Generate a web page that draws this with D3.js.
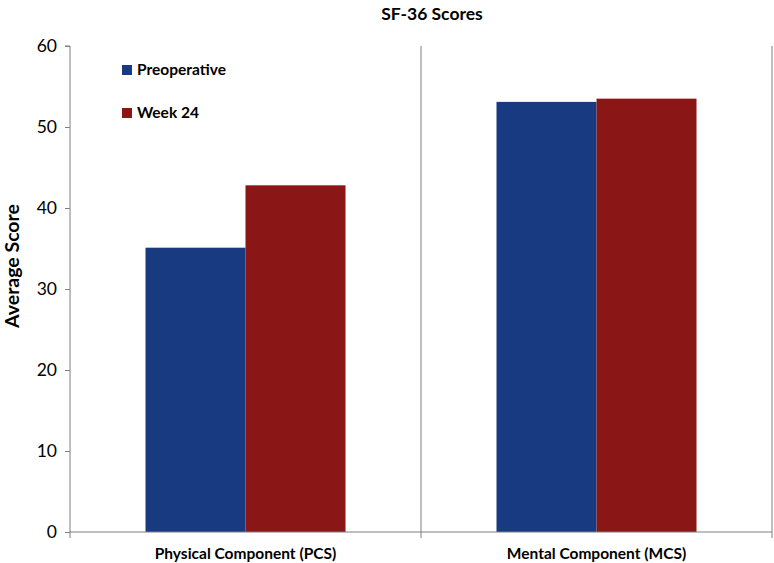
<!DOCTYPE html>
<html><head><meta charset="utf-8">
<script src="https://cdn.jsdelivr.net/npm/d3@7"></script>
<style>body{margin:0;background:#fff}svg{display:block}text{font-family:Lato,"Open Sans",sans-serif}</style>
</head><body><svg id="c" width="774" height="563"></svg>
<script>
const categories = ["Physical Component (PCS)", "Mental Component (MCS)"];
const seriesNames = ["Preoperative", "Week 24"];
const preoperative = [35.1, 53.1];
const week24 = [42.8, 53.5];
const yTicks = [0, 10, 20, 30, 40, 50, 60];
const colors = ["#173a80", "#8a1616"];

(function () {
const svg = d3.select("#c");
const mLeft = 70, mRight = 772, mTop = 46, mBottom = 532;
const x = d3.scaleBand().domain(categories).range([mLeft, mRight]);
const y = d3.scaleLinear().domain([0, 60]).range([mBottom, mTop]);
const inner = d3.scaleBand().domain(seriesNames).range([0, x.bandwidth()]).paddingOuter(0.755).paddingInner(0);
const axisColor = "#7f7f7f";

svg.append("text").attr("x", 432).attr("y", 20).attr("text-anchor", "middle")
  .attr("font-weight", "bold").attr("font-size", 17.5).text("SF-36 Scores");

const series = [preoperative, week24];
series.forEach((vals, si) => {
  svg.append("g").selectAll("rect").data(categories).join("rect")
    .attr("x", (d) => x(d) + inner(seriesNames[si]))
    .attr("width", inner.bandwidth())
    .attr("y", (d, i) => y(vals[i]))
    .attr("height", (d, i) => y(0) - y(vals[i]))
    .attr("fill", colors[si]);
});

const yAxis = svg.append("g").attr("transform", `translate(${mLeft},0)`)
  .call(d3.axisLeft(y).tickValues(yTicks).tickSize(5).tickPadding(8));
yAxis.select(".domain").attr("stroke", axisColor).attr("d", `M-5,${mTop}H0V${mBottom + 6}`);
yAxis.selectAll(".tick line").attr("stroke", axisColor);
yAxis.selectAll(".tick text").attr("font-size", 17.5).attr("fill", "#000").attr("font-family", "Lato, sans-serif");

svg.append("line").attr("x1", mLeft).attr("x2", mRight).attr("y1", mBottom).attr("y2", mBottom)
  .attr("stroke", axisColor);
categories.forEach((c) => {
  const xe = x(c) + x.bandwidth();
  svg.append("line").attr("x1", xe).attr("x2", xe).attr("y1", mTop).attr("y2", mBottom + 6)
    .attr("stroke", axisColor);
});
svg.append("g").selectAll("text").data(categories).join("text")
  .attr("x", (d) => x(d) + x.bandwidth() / 2).attr("y", 559)
  .attr("text-anchor", "middle").attr("font-weight", "bold").attr("font-size", 15.5).text((d) => d);

svg.append("text").attr("transform", `translate(19,266) rotate(-90)`)
  .attr("text-anchor", "middle").attr("font-weight", "bold").attr("font-size", 19.5).text("Average Score");

const lg = svg.append("g");
seriesNames.forEach((n, i) => {
  const yy = 65 + i * 43;
  lg.append("rect").attr("x", 122).attr("y", yy).attr("width", 10).attr("height", 10).attr("fill", colors[i]);
  lg.append("text").attr("x", 137).attr("y", yy + 10).attr("font-weight", "bold").attr("font-size", 15.5).text(n);
});
})();
</script></body></html>
